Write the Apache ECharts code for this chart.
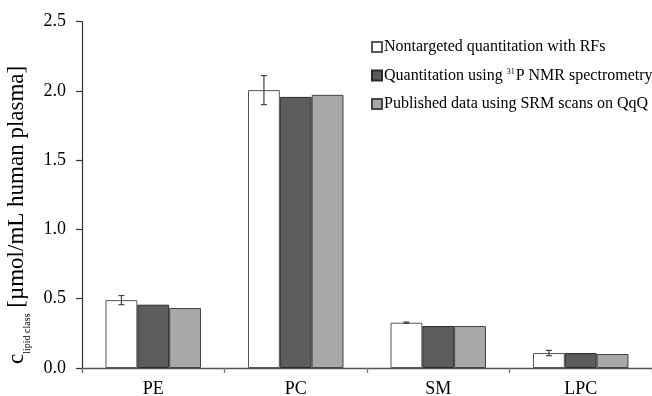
<!DOCTYPE html>
<html>
<head>
<meta charset="utf-8">
<script src="https://cdn.jsdelivr.net/npm/echarts@6/dist/echarts.min.js"></script>
<style>html,body{margin:0;padding:0;background:#fff;}#c{width:652px;height:396px;}</style>
</head>
<body>
<div id="c"></div>
<script>
const categories = ['PE', 'PC', 'SM', 'LPC'];
const seriesNames = ['Nontargeted quantitation with RFs', 'Quantitation using 31P NMR spectrometry', 'Published data using SRM scans on QqQ'];
const nontargeted = [0.490, 2.006, 0.327, 0.108];
const nontargetedErr = [0.033, 0.105, 0.005, 0.019];
const nmr = [0.457, 1.957, 0.303, 0.108];
const srm = [0.433, 1.972, 0.303, 0.101];
const yTicks = [0, 0.5, 1.0, 1.5, 2.0, 2.5];

const FONT = 'Liberation Serif';
const GAP = 0.33;
const chart = echarts.init(document.getElementById('c'), null, {renderer: 'canvas'});

const legendFmt = function (name) {
  if (name === seriesNames[1]) return '{n|Quantitation using }{sup|31}{n|P NMR spectrometry}';
  return '{n|' + name + '}';
};

chart.setOption({
  animation: false,
  backgroundColor: '#fff',
  grid: {left: 82, right: 0, top: 21.7, bottom: 28, containLabel: false, outerBoundsMode: 'none'},
  legend: {
    orient: 'vertical', left: 366, top: 34, itemGap: 12.5, itemWidth: 10, itemHeight: 10,
    icon: 'rect', selectedMode: false,
    data: seriesNames,
    formatter: legendFmt,
    textStyle: {
      fontFamily: FONT, fontSize: 16, color: '#000', padding: [0, 0, 0, -3],
      rich: {
        n: {fontFamily: FONT, fontSize: 16, color: '#000'},
        sup: {fontFamily: FONT, fontSize: 8, color: '#000', verticalAlign: 'top', padding: [0, 1, 7, 0]}
      }
    }
  },
  xAxis: {
    type: 'category', data: categories,
    axisLine: {lineStyle: {color: '#555', width: 1.3}},
    axisTick: {show: true, length: 5, lineStyle: {color: '#777', width: 1.3}},
    axisLabel: {fontFamily: FONT, fontSize: 18, color: '#000', margin: 12}
  },
  yAxis: {
    type: 'value', min: yTicks[0], max: yTicks[yTicks.length - 1], interval: 0.5,
    splitLine: {show: false},
    axisLine: {show: true, lineStyle: {color: '#333', width: 1.2}},
    axisTick: {show: true, length: 6, lineStyle: {color: '#333', width: 1.2}},
    axisLabel: {fontFamily: FONT, fontSize: 18, color: '#000', margin: 16, formatter: v => v.toFixed(1)},
    name: '{c|c}{sub|lipid class}{c| [µmol/mL human plasma]}',
    nameLocation: 'middle', nameRotate: 90, nameGap: 34,
    nameTextStyle: {
      padding: [0, 40, 0, 0],
      rich: {
        c: {fontFamily: FONT, fontSize: 23, color: '#000'},
        sub: {fontFamily: FONT, fontSize: 10, color: '#000', verticalAlign: 'bottom', padding: [0, 0, -4, 0]}
      }
    }
  },
  series: [
    {name: seriesNames[0], type: 'bar', data: nontargeted, barGap: '0%', barCategoryGap: (GAP * 100) + '%',
     itemStyle: {color: '#ffffff', borderColor: '#555', borderWidth: 1}},
    {name: seriesNames[1], type: 'bar', data: nmr, barGap: '0%', barCategoryGap: (GAP * 100) + '%',
     itemStyle: {color: '#5c5c5c', borderColor: '#2a2a2a', borderWidth: 1}},
    {name: seriesNames[2], type: 'bar', data: srm, barGap: '0%', barCategoryGap: (GAP * 100) + '%',
     itemStyle: {color: '#a8a8a8', borderColor: '#444', borderWidth: 1}},
    {
      type: 'custom', name: 'err', silent: true, z: 10,
      data: nontargeted.map((v, i) => [i, v - nontargetedErr[i], v + nontargetedErr[i]]),
      renderItem: function (params, api) {
        const i = api.value(0);
        const lo = api.coord([i, api.value(1)]);
        const hi = api.coord([i, api.value(2)]);
        const bw = api.size([1, 0])[0] * (1 - GAP) / 3;
        const x = lo[0] - bw;
        const cap = 3;
        const st = {stroke: '#444', lineWidth: 1.2};
        return {type: 'group', children: [
          {type: 'line', shape: {x1: x, y1: lo[1], x2: x, y2: hi[1]}, style: st},
          {type: 'line', shape: {x1: x - cap, y1: lo[1], x2: x + cap, y2: lo[1]}, style: st},
          {type: 'line', shape: {x1: x - cap, y1: hi[1], x2: x + cap, y2: hi[1]}, style: st}
        ]};
      }
    }
  ]
});
</script>
</body>
</html>
